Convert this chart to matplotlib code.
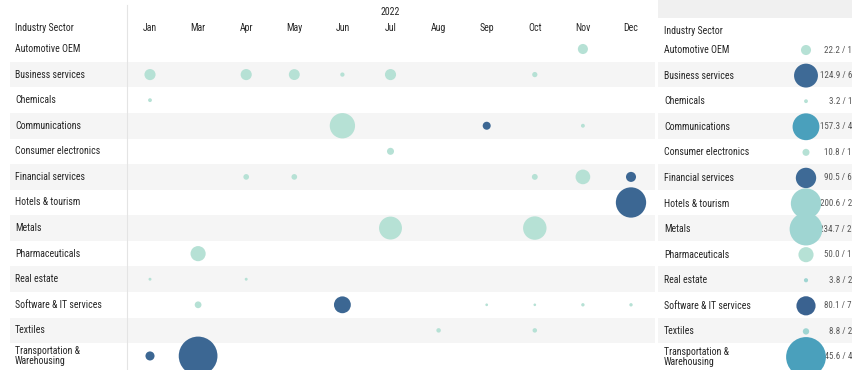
import numpy as np
import matplotlib
matplotlib.use("Agg")
import matplotlib.pyplot as plt
from matplotlib import transforms, font_manager
from matplotlib.colors import LinearSegmentedColormap

months = ['Jan', 'Mar', 'Apr', 'May', 'Jun', 'Jul', 'Aug', 'Sep', 'Oct', 'Nov', 'Dec']
year_label = '2022'
sectors = ['Automotive OEM', 'Business services', 'Chemicals', 'Communications',
           'Consumer electronics', 'Financial services', 'Hotels & tourism', 'Metals',
           'Pharmaceuticals', 'Real estate', 'Software & IT services', 'Textiles',
           'Transportation &\nWarehousing']

# one entry per monthly bubble: sector row, month column, deal value, deal count
bubble_sector = [0, 1, 1, 1, 1, 1, 1, 2, 3, 3, 3, 4, 5, 5, 5, 5, 5, 6, 7, 7, 8,
                 9, 9, 10, 10, 10, 10, 10, 10, 11, 11, 12, 12]
bubble_month = ['Nov', 'Jan', 'Apr', 'May', 'Jun', 'Jul', 'Oct', 'Jan', 'Jun', 'Sep', 'Nov',
                'Jul', 'Apr', 'May', 'Oct', 'Nov', 'Dec', 'Dec', 'Jul', 'Oct', 'Mar',
                'Jan', 'Apr', 'Mar', 'Jun', 'Sep', 'Oct', 'Nov', 'Dec', 'Aug', 'Oct',
                'Jan', 'Mar']
bubble_value = [22.2, 27.0, 27.0, 26.0, 4.0, 27.0, 6.0, 3.2, 140.0, 14.0, 3.3,
                10.8, 7.0, 7.0, 7.5, 47.0, 22.0, 200.6, 114.7, 120.0, 50.0,
                1.9, 1.9, 10.0, 62.0, 1.6, 1.5, 2.5, 2.5, 4.4, 4.4,
                18.0, 327.6]
bubble_count = [1, 1, 1, 1, 1, 1, 1, 1, 1, 2, 1, 1, 1, 1, 1, 1, 2, 2, 1, 1, 1,
                1, 1, 1, 2, 1, 1, 1, 1, 1, 1, 2, 2]

# yearly totals per sector
total_value = [22.2, 124.9, 3.2, 157.3, 10.8, 90.5, 200.6, 234.7, 50.0, 3.8, 80.1, 8.8, 345.6]
total_count = [1, 6, 1, 4, 1, 6, 2, 2, 1, 2, 7, 2, 4]

W, H, DPI = 853, 370, 100
MINT = '#b6e1d5'
DARK = '#3c6793'
BAND = '#f5f5f5'
TEXT = '#262626'

# narrowest sans available
names = {f.name for f in font_manager.fontManager.ttflist}
has_dv_cond = any(f.name == 'DejaVu Sans' and 'ondensed' in f.fname
                  for f in font_manager.fontManager.ttflist)
stretch = 'normal'
for fam in ['Roboto Condensed', 'Liberation Sans Narrow', 'Open Sans Condensed']:
    if fam in names:
        family = fam
        break
else:
    family = 'DejaVu Sans'
    if has_dv_cond:
        stretch = 'condensed'
plt.rcParams['font.family'] = [family, 'DejaVu Sans']
plt.rcParams['font.stretch'] = stretch

fig = plt.figure(figsize=(W / DPI, H / DPI), dpi=DPI)

# size the labels so the longest one spans about 86 px
probe = fig.text(0, 0, 'Software & IT services', fontsize=10)
wpx = probe.get_window_extent(fig.canvas.get_renderer()).width
probe.remove()
FS = float(np.clip(10 * 86 / wpx, 5.6, 7.6))


def bubble_size(v):
    # marker area in pt^2, radius ~1.07*sqrt(v) pixels
    d = 2 * 1.07 * np.sqrt(np.asarray(v, dtype=float)) * 72 / DPI
    return d ** 2


month_cmap = LinearSegmentedColormap.from_list('month', [MINT, DARK])
total_cmap = LinearSegmentedColormap.from_list(
    'total', [(0.0, MINT), (1 / 6, '#9fd5d2'), (0.5, '#4aa0bc'), (5 / 6, '#3e6a96'), (1.0, '#3a6290')])

# pixel geometry -> data limits
col_step, row_step = 48.1, 25.58
x0_px, y0_px = 150, 49
y_lo, y_hi = (H - y0_px) / row_step, (0 - y0_px) / row_step

# ---- left panel: month grid ----
ax = fig.add_axes([10 / W, 0, 645 / W, 1])
ax.set_xlim((10 - x0_px) / col_step, (655 - x0_px) / col_step)
ax.set_ylim(y_lo, y_hi)
ax.axis('off')

for i in range(len(sectors)):
    if i % 2 == 1:
        ax.axhspan(i - 0.5, i + 0.5, color=BAND, lw=0, zorder=0)

sep_x = (127 - x0_px) / col_step
ax.plot([sep_x, sep_x], [(5 - y0_px) / row_step, len(sectors)], color='#e4e4e4', lw=0.8, zorder=1)

lab = transforms.blended_transform_factory(ax.transAxes, ax.transData)
for i, name in enumerate(sectors):
    ax.text(5 / 645, i, name, transform=lab, ha='left', va='center', fontsize=FS,
            color=TEXT, linespacing=1.05)

head_y = (28 - y0_px) / row_step
ax.text(5 / 645, head_y, 'Industry Sector', transform=lab, ha='left', va='center',
        fontsize=FS, color=TEXT)
for j, m in enumerate(months):
    ax.text(j, head_y, m, ha='center', va='center', fontsize=FS, color=TEXT)
ax.text(months.index('Jul'), (12 - y0_px) / row_step, year_label, ha='center', va='center',
        fontsize=FS, color=TEXT)

bx = [months.index(m) for m in bubble_month]
ax.scatter(bx, bubble_sector, s=bubble_size(bubble_value), c=bubble_count,
           cmap=month_cmap, vmin=1, vmax=2, linewidths=0, zorder=3)

# ---- right panel: yearly totals ----
rx = fig.add_axes([658 / W, 0, 195 / W, 1])
rx.set_xlim(0, 195)
rx.set_ylim(y_lo, y_hi)
rx.axis('off')

rx.axhspan(y_hi, (18 - y0_px) / row_step, color='#f0f0f0', lw=0, zorder=0)
for i in range(len(sectors)):
    if i % 2 == 1:
        rx.axhspan(i - 0.5, i + 0.5, color=BAND, lw=0, zorder=0)

rx.text(6, (31 - y0_px) / row_step, 'Industry Sector', ha='left', va='center',
        fontsize=FS, color=TEXT)
for i, name in enumerate(sectors):
    rx.text(6, i + 0.04, name, ha='left', va='center', fontsize=FS, color=TEXT,
            linespacing=1.05)
    rx.text(194, i + 0.04, f'{total_value[i]:.1f} / {total_count[i]}', ha='right',
            va='center', fontsize=FS - 0.6, color='#555555', zorder=2)

rx.scatter(np.full(len(sectors), 148), np.arange(len(sectors)) + 0.04,
           s=bubble_size(total_value), c=total_count, cmap=total_cmap, vmin=1, vmax=7,
           linewidths=0, zorder=3)

fig.savefig('out.png', dpi=DPI)
